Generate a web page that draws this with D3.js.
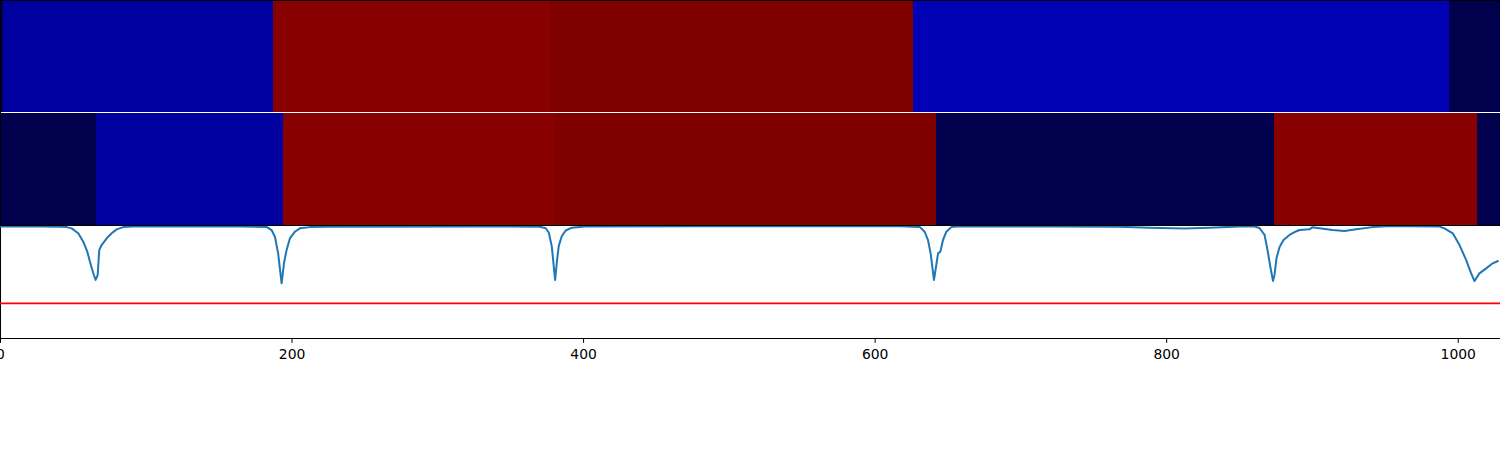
<!DOCTYPE html>
<html>
<head>
<meta charset="utf-8">
<script src="https://cdn.jsdelivr.net/npm/d3@7"></script>
<style>
  html, body { margin: 0; padding: 0; background: #fff; }
  svg { display: block; }
</style>
</head>
<body>
<svg id="chart" width="1500" height="450"></svg>
<script>
// ---------- data ----------
const nCells = 1029;

// Row 1 (top heatmap): segment start index and value (0..1 on seismic scale)
const topStarts = [0, 2, 187, 377, 626, 994];
const topValues = [0.0, 0.117, 0.983, 1.0, 0.146, 0.0];

// Row 2 (middle heatmap)
const midStarts = [0, 66, 194, 381, 642, 874, 1013];
const midValues = [0.0, 0.117, 0.983, 1.0, 0.0, 0.983, 0.0];

// Bottom line series
const lineX = [0, 27.4, 41.1, 45.7, 49.2, 53.7, 57.1, 59.9, 61.7, 64.0, 65.6, 67.0, 68.1, 69.7, 73.2, 76.6, 80.0, 84.6, 91.2,
  164.6, 182.9, 186.3, 188.6, 190.8, 193.2, 194.8, 196.6, 198.9, 202.3, 205.7, 212.6, 226.3,
  329.2, 370.3, 374.4, 376.5, 378.5, 380.8, 382.0, 383.3, 385.4, 388.1, 392.3, 401.2,
  480, 617.2, 630.9, 634.3, 636.6, 638.4, 640.7, 642.3, 643.5, 645.1, 646.9, 649.2, 652.6, 658.3,
  720, 768, 788.6, 812.6, 829.8, 850.3, 860.6, 864.0, 867.5, 869.5, 871.6, 873.3, 874.3, 875.7, 877.8, 880.5,
  884.6, 888.1, 891.5, 898.3, 900.2, 905.2, 914.1, 922.3, 930.4, 941.5, 951.0, 966.9, 987.5, 990.9, 996.6,
  1001.2, 1005.8, 1009.2, 1011.5, 1014.9, 1019.5, 1024.0, 1028];
const lineY = [0.995, 0.995, 0.993, 0.99, 0.979, 0.935, 0.86, 0.771, 0.681, 0.578, 0.518, 0.562, 0.786, 0.83, 0.89, 0.935, 0.97, 0.99, 0.995,
  0.996, 0.992, 0.964, 0.904, 0.756, 0.488, 0.667, 0.786, 0.89, 0.949, 0.979, 0.99, 0.994,
  0.995, 0.994, 0.98, 0.94, 0.82, 0.518, 0.68, 0.82, 0.91, 0.96, 0.985, 0.996,
  0.997, 0.997, 0.992, 0.949, 0.875, 0.756, 0.518, 0.652, 0.756, 0.771, 0.875, 0.949, 0.99, 0.997,
  0.996, 0.993, 0.985, 0.978, 0.985, 0.995, 0.995, 0.982, 0.92, 0.786, 0.625, 0.509, 0.563, 0.714, 0.813, 0.875,
  0.92, 0.946, 0.964, 0.97, 0.988, 0.979, 0.964, 0.955, 0.97, 0.99, 0.997, 0.998, 0.996, 0.979, 0.935,
  0.83, 0.696, 0.577, 0.509, 0.577, 0.622, 0.667, 0.69];

const threshold = 0.31;
const xTicks = [0, 200, 400, 600, 800, 1000];

// ---------- layout ----------
const W = 1500;
const svg = d3.select("#chart");
svg.append("rect").attr("width", W).attr("height", 450).attr("fill", "#fff");

const x = d3.scaleLinear().domain([0, nCells]).range([0, W]);

// seismic-like colormap
const color = d3.scaleLinear()
  .domain([0, 0.25, 0.5, 0.75, 1])
  .range(["#00004d", "#0000ff", "#ffffff", "#ff0000", "#800000"])
  .interpolate(d3.interpolateRgb);

function segs(starts, values) {
  return starts.map((s, i) => ({
    x0: s, x1: i < starts.length - 1 ? starts[i + 1] : nCells, v: values[i]
  }));
}

function drawRow(starts, values, y0, y1) {
  svg.append("g").selectAll("rect")
    .data(segs(starts, values))
    .join("rect")
    .attr("x", d => x(d.x0))
    .attr("width", d => x(d.x1) - x(d.x0))
    .attr("y", y0)
    .attr("height", y1 - y0)
    .attr("fill", d => color(d.v))
    .attr("shape-rendering", "crispEdges");
}

drawRow(topStarts, topValues, 0, 112);
drawRow(midStarts, midValues, 113, 225);

// top spine + left spine for heatmaps
svg.append("line").attr("x1", 0).attr("x2", W).attr("y1", 0.5).attr("y2", 0.5)
  .attr("stroke", "#000").attr("stroke-width", 1);
svg.append("line").attr("x1", 0.5).attr("x2", 0.5).attr("y1", 0).attr("y2", 338)
  .attr("stroke", "#000").attr("stroke-width", 1);

// bottom panel
const pTop = 226, pBot = 338;
const y = d3.scaleLinear().domain([0, 1]).range([pBot, pTop]);

svg.append("clipPath").attr("id", "clip")
  .append("rect").attr("x", 0).attr("y", pTop - 1).attr("width", W).attr("height", pBot - pTop + 1);

const pts = lineX.map((v, i) => [v, lineY[i]]);
const line = d3.line().x(d => x(d[0])).y(d => y(d[1]));

svg.append("line")
  .attr("x1", 0).attr("x2", W)
  .attr("y1", y(threshold)).attr("y2", y(threshold))
  .attr("stroke", "#ff0000").attr("stroke-width", 1.8);

svg.append("path")
  .datum(pts)
  .attr("clip-path", "url(#clip)")
  .attr("d", line)
  .attr("fill", "none")
  .attr("stroke", "#1f77b4")
  .attr("stroke-width", 2)
  .attr("stroke-linejoin", "round");

// separator line between middle heatmap and plot
svg.append("line").attr("x1", 0).attr("x2", W).attr("y1", 225.5).attr("y2", 225.5)
  .attr("stroke", "#000").attr("stroke-width", 1);

// x axis
const axis = d3.axisBottom(x).tickValues(xTicks).tickSize(4.9).tickPadding(6.5).tickSizeOuter(0)
  .tickFormat(d3.format("d"));
const gAxis = svg.append("g").attr("transform", `translate(0,${pBot})`).call(axis);
gAxis.select(".domain").attr("stroke", "#000").attr("stroke-width", 1);
gAxis.selectAll(".tick line").attr("stroke", "#000").attr("stroke-width", 1);
gAxis.selectAll(".tick text")
  .attr("fill", "#000")
  .style("font-family", "'DejaVu Sans', sans-serif")
  .style("font-size", "13.9px");
</script>
</body>
</html>
